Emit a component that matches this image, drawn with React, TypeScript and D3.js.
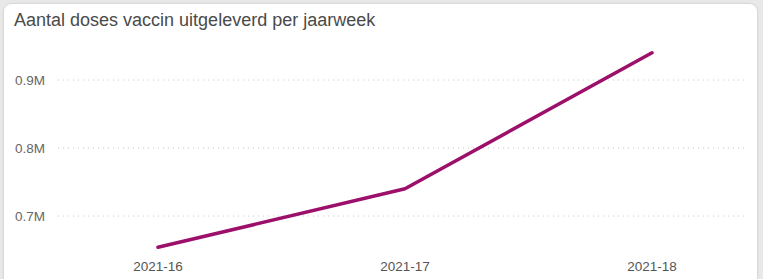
import * as d3 from 'd3';

const weeks = ['2021-16', '2021-17', '2021-18'];
const doses = [654000, 740000, 940000];
const yTicks = [700000, 800000, 900000];

const W = 763;
const H = 279;

export default function App() {
	// y: 0.1M per 68px, 0.9M gridline at y=80
	const y = d3.scaleLinear().domain([900000, 700000]).range([80, 216]);
	const x = d3.scalePoint<string>().domain(weeks).range([158, 652]);

	const line = d3
		.line<number>()
		.x((_, i) => x(weeks[i])!)
		.y((d) => y(d));

	const fmt = (v: number) => `${(v / 1e6).toFixed(1)}M`;

	return (
		<div style={{ position: 'fixed', left: 0, top: 0, width: W, height: H, background: '#e8e8e8' }}>
			<svg width={W} height={H} style={{ display: 'block', fontFamily: 'Liberation Sans, Arial, sans-serif' }}>
				<defs>
					<filter id="sh" x="-5%" y="-5%" width="110%" height="110%">
						<feDropShadow dx="0" dy="0" stdDeviation="1.2" floodColor="#000" floodOpacity="0.18" />
					</filter>
				</defs>
				<rect x={4} y={4} width={753} height={290} rx={8} fill="#fff" filter="url(#sh)" />
				<text x={14} y={26} fontSize={18} fill="#4a4a4a">
					Aantal doses vaccin uitgeleverd per jaarweek
				</text>

				{yTicks.map((t) => (
					<g key={t}>
						<line
							x1={58}
							x2={745}
							y1={y(t)}
							y2={y(t)}
							stroke="#c8c8c8"
							strokeWidth={1}
							strokeDasharray="1 4"
						/>
						<text x={15} y={y(t)} dy="0.35em" fontSize={13.5} fill="#666">
							{fmt(t)}
						</text>
					</g>
				))}

				{weeks.map((w) => (
					<text key={w} x={x(w)} y={271} textAnchor="middle" fontSize={13.5} fill="#555">
						{w}
					</text>
				))}

				<path d={line(doses) ?? ''} fill="none" stroke="#9c0f6a" strokeWidth={3.5} strokeLinejoin="round" strokeLinecap="round" />
			</svg>
		</div>
	);
}
